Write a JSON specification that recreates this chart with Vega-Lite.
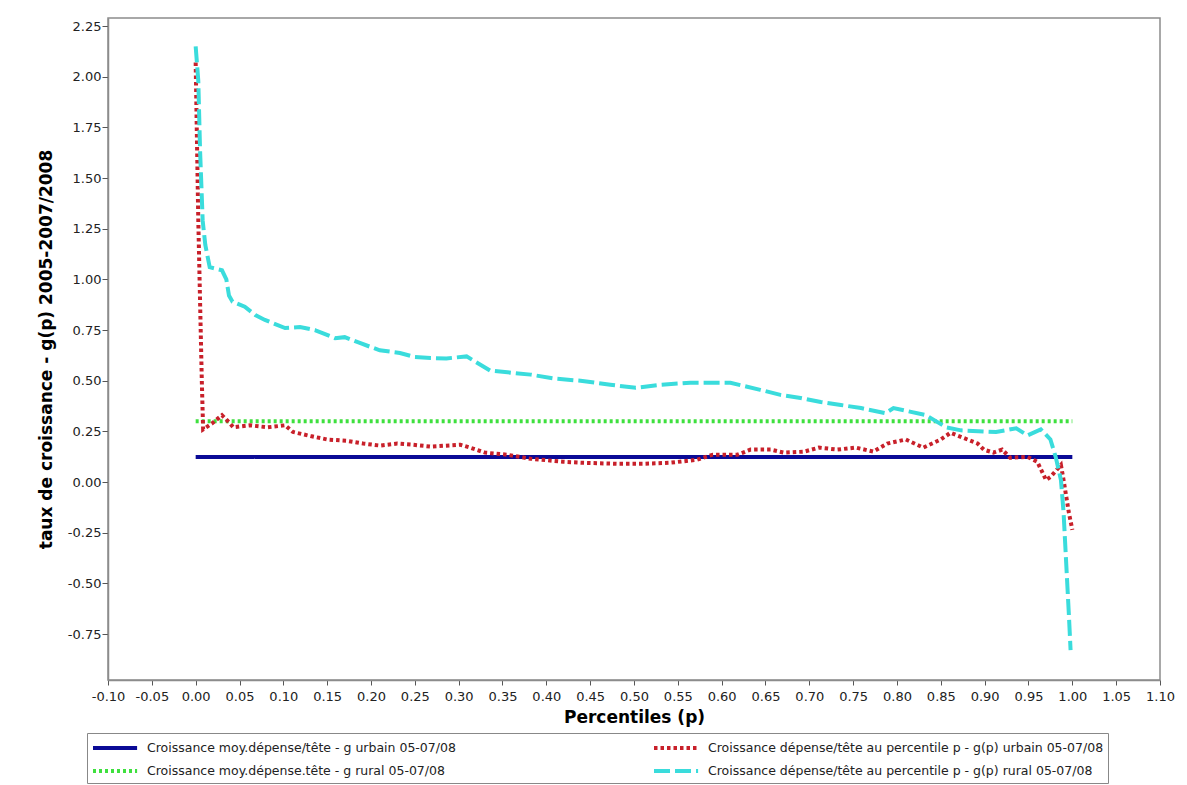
{
  "$schema": "https://vega.github.io/schema/vega-lite/v6.json",
  "width": 1052,
  "height": 662,
  "autosize": {"type": "none"},
  "padding": {"left": 108, "top": 18, "right": 27, "bottom": 105},
  "background": "white",
  "config": {
    "view": {"stroke": "#8c8c8c", "strokeWidth": 1.5},
    "font": "DejaVu Sans"
  },
  "datasets": {
    "series": [
      {"p": 0.0, "g": 0.124, "s": "Croissance moy.dépense/tête - g urbain 05-07/08"},
      {"p": 1.0, "g": 0.124, "s": "Croissance moy.dépense/tête - g urbain 05-07/08"},
      {"p": 0.0, "g": 0.30, "s": "Croissance moy.dépense.tête - g rural 05-07/08"},
      {"p": 1.0, "g": 0.30, "s": "Croissance moy.dépense.tête - g rural 05-07/08"},
      {"p": 0.000, "g": 2.07, "s": "Croissance dépense/tête au percentile p - g(p) urbain 05-07/08"},
      {"p": 0.003, "g": 1.29, "s": "Croissance dépense/tête au percentile p - g(p) urbain 05-07/08"},
      {"p": 0.007, "g": 0.50, "s": "Croissance dépense/tête au percentile p - g(p) urbain 05-07/08"},
      {"p": 0.0085, "g": 0.26, "s": "Croissance dépense/tête au percentile p - g(p) urbain 05-07/08"},
      {"p": 0.019, "g": 0.29, "s": "Croissance dépense/tête au percentile p - g(p) urbain 05-07/08"},
      {"p": 0.030, "g": 0.33, "s": "Croissance dépense/tête au percentile p - g(p) urbain 05-07/08"},
      {"p": 0.039, "g": 0.29, "s": "Croissance dépense/tête au percentile p - g(p) urbain 05-07/08"},
      {"p": 0.043, "g": 0.27, "s": "Croissance dépense/tête au percentile p - g(p) urbain 05-07/08"},
      {"p": 0.062, "g": 0.28, "s": "Croissance dépense/tête au percentile p - g(p) urbain 05-07/08"},
      {"p": 0.082, "g": 0.27, "s": "Croissance dépense/tête au percentile p - g(p) urbain 05-07/08"},
      {"p": 0.102, "g": 0.28, "s": "Croissance dépense/tête au percentile p - g(p) urbain 05-07/08"},
      {"p": 0.111, "g": 0.247, "s": "Croissance dépense/tête au percentile p - g(p) urbain 05-07/08"},
      {"p": 0.131, "g": 0.227, "s": "Croissance dépense/tête au percentile p - g(p) urbain 05-07/08"},
      {"p": 0.150, "g": 0.21, "s": "Croissance dépense/tête au percentile p - g(p) urbain 05-07/08"},
      {"p": 0.173, "g": 0.203, "s": "Croissance dépense/tête au percentile p - g(p) urbain 05-07/08"},
      {"p": 0.191, "g": 0.19, "s": "Croissance dépense/tête au percentile p - g(p) urbain 05-07/08"},
      {"p": 0.210, "g": 0.18, "s": "Croissance dépense/tête au percentile p - g(p) urbain 05-07/08"},
      {"p": 0.230, "g": 0.19, "s": "Croissance dépense/tête au percentile p - g(p) urbain 05-07/08"},
      {"p": 0.248, "g": 0.184, "s": "Croissance dépense/tête au percentile p - g(p) urbain 05-07/08"},
      {"p": 0.268, "g": 0.175, "s": "Croissance dépense/tête au percentile p - g(p) urbain 05-07/08"},
      {"p": 0.302, "g": 0.184, "s": "Croissance dépense/tête au percentile p - g(p) urbain 05-07/08"},
      {"p": 0.313, "g": 0.17, "s": "Croissance dépense/tête au percentile p - g(p) urbain 05-07/08"},
      {"p": 0.330, "g": 0.145, "s": "Croissance dépense/tête au percentile p - g(p) urbain 05-07/08"},
      {"p": 0.355, "g": 0.135, "s": "Croissance dépense/tête au percentile p - g(p) urbain 05-07/08"},
      {"p": 0.382, "g": 0.115, "s": "Croissance dépense/tête au percentile p - g(p) urbain 05-07/08"},
      {"p": 0.419, "g": 0.10, "s": "Croissance dépense/tête au percentile p - g(p) urbain 05-07/08"},
      {"p": 0.442, "g": 0.095, "s": "Croissance dépense/tête au percentile p - g(p) urbain 05-07/08"},
      {"p": 0.481, "g": 0.09, "s": "Croissance dépense/tête au percentile p - g(p) urbain 05-07/08"},
      {"p": 0.511, "g": 0.09, "s": "Croissance dépense/tête au percentile p - g(p) urbain 05-07/08"},
      {"p": 0.541, "g": 0.095, "s": "Croissance dépense/tête au percentile p - g(p) urbain 05-07/08"},
      {"p": 0.572, "g": 0.11, "s": "Croissance dépense/tête au percentile p - g(p) urbain 05-07/08"},
      {"p": 0.590, "g": 0.135, "s": "Croissance dépense/tête au percentile p - g(p) urbain 05-07/08"},
      {"p": 0.618, "g": 0.135, "s": "Croissance dépense/tête au percentile p - g(p) urbain 05-07/08"},
      {"p": 0.633, "g": 0.16, "s": "Croissance dépense/tête au percentile p - g(p) urbain 05-07/08"},
      {"p": 0.656, "g": 0.16, "s": "Croissance dépense/tête au percentile p - g(p) urbain 05-07/08"},
      {"p": 0.671, "g": 0.145, "s": "Croissance dépense/tête au percentile p - g(p) urbain 05-07/08"},
      {"p": 0.694, "g": 0.15, "s": "Croissance dépense/tête au percentile p - g(p) urbain 05-07/08"},
      {"p": 0.711, "g": 0.17, "s": "Croissance dépense/tête au percentile p - g(p) urbain 05-07/08"},
      {"p": 0.732, "g": 0.16, "s": "Croissance dépense/tête au percentile p - g(p) urbain 05-07/08"},
      {"p": 0.753, "g": 0.17, "s": "Croissance dépense/tête au percentile p - g(p) urbain 05-07/08"},
      {"p": 0.773, "g": 0.15, "s": "Croissance dépense/tête au percentile p - g(p) urbain 05-07/08"},
      {"p": 0.789, "g": 0.19, "s": "Croissance dépense/tête au percentile p - g(p) urbain 05-07/08"},
      {"p": 0.810, "g": 0.21, "s": "Croissance dépense/tête au percentile p - g(p) urbain 05-07/08"},
      {"p": 0.830, "g": 0.17, "s": "Croissance dépense/tête au percentile p - g(p) urbain 05-07/08"},
      {"p": 0.850, "g": 0.21, "s": "Croissance dépense/tête au percentile p - g(p) urbain 05-07/08"},
      {"p": 0.861, "g": 0.243, "s": "Croissance dépense/tête au percentile p - g(p) urbain 05-07/08"},
      {"p": 0.892, "g": 0.19, "s": "Croissance dépense/tête au percentile p - g(p) urbain 05-07/08"},
      {"p": 0.899, "g": 0.16, "s": "Croissance dépense/tête au percentile p - g(p) urbain 05-07/08"},
      {"p": 0.910, "g": 0.145, "s": "Croissance dépense/tête au percentile p - g(p) urbain 05-07/08"},
      {"p": 0.920, "g": 0.16, "s": "Croissance dépense/tête au percentile p - g(p) urbain 05-07/08"},
      {"p": 0.929, "g": 0.12, "s": "Croissance dépense/tête au percentile p - g(p) urbain 05-07/08"},
      {"p": 0.949, "g": 0.124, "s": "Croissance dépense/tête au percentile p - g(p) urbain 05-07/08"},
      {"p": 0.960, "g": 0.10, "s": "Croissance dépense/tête au percentile p - g(p) urbain 05-07/08"},
      {"p": 0.970, "g": 0.01, "s": "Croissance dépense/tête au percentile p - g(p) urbain 05-07/08"},
      {"p": 0.975, "g": 0.025, "s": "Croissance dépense/tête au percentile p - g(p) urbain 05-07/08"},
      {"p": 0.987, "g": 0.084, "s": "Croissance dépense/tête au percentile p - g(p) urbain 05-07/08"},
      {"p": 0.990, "g": 0.01, "s": "Croissance dépense/tête au percentile p - g(p) urbain 05-07/08"},
      {"p": 0.996, "g": -0.15, "s": "Croissance dépense/tête au percentile p - g(p) urbain 05-07/08"},
      {"p": 1.000, "g": -0.236, "s": "Croissance dépense/tête au percentile p - g(p) urbain 05-07/08"},
      {"p": 0.000, "g": 2.15, "s": "Croissance dépense/tête au percentile p - g(p) rural 05-07/08"},
      {"p": 0.003, "g": 1.98, "s": "Croissance dépense/tête au percentile p - g(p) rural 05-07/08"},
      {"p": 0.005, "g": 1.64, "s": "Croissance dépense/tête au percentile p - g(p) rural 05-07/08"},
      {"p": 0.008, "g": 1.29, "s": "Croissance dépense/tête au percentile p - g(p) rural 05-07/08"},
      {"p": 0.011, "g": 1.17, "s": "Croissance dépense/tête au percentile p - g(p) rural 05-07/08"},
      {"p": 0.016, "g": 1.06, "s": "Croissance dépense/tête au percentile p - g(p) rural 05-07/08"},
      {"p": 0.030, "g": 1.045, "s": "Croissance dépense/tête au percentile p - g(p) rural 05-07/08"},
      {"p": 0.035, "g": 1.00, "s": "Croissance dépense/tête au percentile p - g(p) rural 05-07/08"},
      {"p": 0.038, "g": 0.92, "s": "Croissance dépense/tête au percentile p - g(p) rural 05-07/08"},
      {"p": 0.042, "g": 0.89, "s": "Croissance dépense/tête au percentile p - g(p) rural 05-07/08"},
      {"p": 0.056, "g": 0.865, "s": "Croissance dépense/tête au percentile p - g(p) rural 05-07/08"},
      {"p": 0.068, "g": 0.824, "s": "Croissance dépense/tête au percentile p - g(p) rural 05-07/08"},
      {"p": 0.079, "g": 0.80, "s": "Croissance dépense/tête au percentile p - g(p) rural 05-07/08"},
      {"p": 0.102, "g": 0.76, "s": "Croissance dépense/tête au percentile p - g(p) rural 05-07/08"},
      {"p": 0.119, "g": 0.765, "s": "Croissance dépense/tête au percentile p - g(p) rural 05-07/08"},
      {"p": 0.136, "g": 0.75, "s": "Croissance dépense/tête au percentile p - g(p) rural 05-07/08"},
      {"p": 0.159, "g": 0.71, "s": "Croissance dépense/tête au percentile p - g(p) rural 05-07/08"},
      {"p": 0.170, "g": 0.715, "s": "Croissance dépense/tête au percentile p - g(p) rural 05-07/08"},
      {"p": 0.188, "g": 0.685, "s": "Croissance dépense/tête au percentile p - g(p) rural 05-07/08"},
      {"p": 0.210, "g": 0.65, "s": "Croissance dépense/tête au percentile p - g(p) rural 05-07/08"},
      {"p": 0.233, "g": 0.637, "s": "Croissance dépense/tête au percentile p - g(p) rural 05-07/08"},
      {"p": 0.250, "g": 0.617, "s": "Croissance dépense/tête au percentile p - g(p) rural 05-07/08"},
      {"p": 0.268, "g": 0.612, "s": "Croissance dépense/tête au percentile p - g(p) rural 05-07/08"},
      {"p": 0.286, "g": 0.61, "s": "Croissance dépense/tête au percentile p - g(p) rural 05-07/08"},
      {"p": 0.309, "g": 0.62, "s": "Croissance dépense/tête au percentile p - g(p) rural 05-07/08"},
      {"p": 0.336, "g": 0.55, "s": "Croissance dépense/tête au percentile p - g(p) rural 05-07/08"},
      {"p": 0.382, "g": 0.53, "s": "Croissance dépense/tête au percentile p - g(p) rural 05-07/08"},
      {"p": 0.410, "g": 0.51, "s": "Croissance dépense/tête au percentile p - g(p) rural 05-07/08"},
      {"p": 0.439, "g": 0.50, "s": "Croissance dépense/tête au percentile p - g(p) rural 05-07/08"},
      {"p": 0.473, "g": 0.48, "s": "Croissance dépense/tête au percentile p - g(p) rural 05-07/08"},
      {"p": 0.502, "g": 0.465, "s": "Croissance dépense/tête au percentile p - g(p) rural 05-07/08"},
      {"p": 0.530, "g": 0.48, "s": "Croissance dépense/tête au percentile p - g(p) rural 05-07/08"},
      {"p": 0.564, "g": 0.49, "s": "Croissance dépense/tête au percentile p - g(p) rural 05-07/08"},
      {"p": 0.610, "g": 0.49, "s": "Croissance dépense/tête au percentile p - g(p) rural 05-07/08"},
      {"p": 0.644, "g": 0.455, "s": "Croissance dépense/tête au percentile p - g(p) rural 05-07/08"},
      {"p": 0.667, "g": 0.43, "s": "Croissance dépense/tête au percentile p - g(p) rural 05-07/08"},
      {"p": 0.690, "g": 0.415, "s": "Croissance dépense/tête au percentile p - g(p) rural 05-07/08"},
      {"p": 0.713, "g": 0.395, "s": "Croissance dépense/tête au percentile p - g(p) rural 05-07/08"},
      {"p": 0.736, "g": 0.38, "s": "Croissance dépense/tête au percentile p - g(p) rural 05-07/08"},
      {"p": 0.759, "g": 0.365, "s": "Croissance dépense/tête au percentile p - g(p) rural 05-07/08"},
      {"p": 0.787, "g": 0.34, "s": "Croissance dépense/tête au percentile p - g(p) rural 05-07/08"},
      {"p": 0.796, "g": 0.365, "s": "Croissance dépense/tête au percentile p - g(p) rural 05-07/08"},
      {"p": 0.833, "g": 0.33, "s": "Croissance dépense/tête au percentile p - g(p) rural 05-07/08"},
      {"p": 0.856, "g": 0.27, "s": "Croissance dépense/tête au percentile p - g(p) rural 05-07/08"},
      {"p": 0.873, "g": 0.255, "s": "Croissance dépense/tête au percentile p - g(p) rural 05-07/08"},
      {"p": 0.913, "g": 0.247, "s": "Croissance dépense/tête au percentile p - g(p) rural 05-07/08"},
      {"p": 0.936, "g": 0.265, "s": "Croissance dépense/tête au percentile p - g(p) rural 05-07/08"},
      {"p": 0.949, "g": 0.23, "s": "Croissance dépense/tête au percentile p - g(p) rural 05-07/08"},
      {"p": 0.964, "g": 0.26, "s": "Croissance dépense/tête au percentile p - g(p) rural 05-07/08"},
      {"p": 0.975, "g": 0.21, "s": "Croissance dépense/tête au percentile p - g(p) rural 05-07/08"},
      {"p": 0.981, "g": 0.124, "s": "Croissance dépense/tête au percentile p - g(p) rural 05-07/08"},
      {"p": 0.987, "g": 0.01, "s": "Croissance dépense/tête au percentile p - g(p) rural 05-07/08"},
      {"p": 0.990, "g": -0.15, "s": "Croissance dépense/tête au percentile p - g(p) rural 05-07/08"},
      {"p": 0.993, "g": -0.40, "s": "Croissance dépense/tête au percentile p - g(p) rural 05-07/08"},
      {"p": 0.996, "g": -0.65, "s": "Croissance dépense/tête au percentile p - g(p) rural 05-07/08"},
      {"p": 0.998, "g": -0.83, "s": "Croissance dépense/tête au percentile p - g(p) rural 05-07/08"}
    ]
  },
  "data": {"name": "series"},
  "mark": {"type": "line", "strokeWidth": 4, "clip": true},
  "encoding": {
    "x": {
      "field": "p",
      "type": "quantitative",
      "scale": {"domain": [-0.1, 1.1], "nice": false, "zero": false},
      "axis": {
        "title": "Percentiles (p)",
        "values": [-0.1, -0.05, 0, 0.05, 0.1, 0.15, 0.2, 0.25, 0.3, 0.35, 0.4, 0.45, 0.5, 0.55, 0.6, 0.65, 0.7, 0.75, 0.8, 0.85, 0.9, 0.95, 1.0, 1.05, 1.1],
        "labelExpr": "replace(format(datum.value, '.2f'), '\u2212', '-')",
        "grid": false,
        "domainColor": "#8c8c8c",
        "domainWidth": 1.5,
        "tickColor": "#555",
        "tickSize": 5,
        "labelPadding": 5,
        "labelFont": "DejaVu Sans",
        "labelFontSize": 13,
        "labelColor": "#222",
        "labelFlush": false,
        "labelOverlap": false,
        "titleFont": "DejaVu Sans",
        "titleFontSize": 17,
        "titleFontWeight": "bold",
        "titleColor": "#000",
        "titlePadding": 6
      }
    },
    "y": {
      "field": "g",
      "type": "quantitative",
      "scale": {"domain": [-0.977, 2.29], "nice": false, "zero": false},
      "axis": {
        "title": "taux de croissance - g(p) 2005-2007/2008",
        "values": [-0.75, -0.5, -0.25, 0, 0.25, 0.5, 0.75, 1.0, 1.25, 1.5, 1.75, 2.0, 2.25],
        "labelExpr": "replace(format(datum.value, '.2f'), '\u2212', '-')",
        "grid": false,
        "domainColor": "#8c8c8c",
        "domainWidth": 1.5,
        "tickColor": "#555",
        "tickSize": 6,
        "labelPadding": 1,
        "labelFont": "DejaVu Sans",
        "labelFontSize": 13,
        "labelColor": "#222",
        "labelOverlap": false,
        "titleFont": "DejaVu Sans",
        "titleFontSize": 17,
        "titleFontWeight": "bold",
        "titleColor": "#000",
        "titlePadding": 12
      }
    },
    "color": {
      "field": "s",
      "type": "nominal",
      "scale": {
        "domain": [
          "Croissance moy.dépense/tête - g urbain 05-07/08",
          "Croissance moy.dépense.tête - g rural 05-07/08",
          "Croissance dépense/tête au percentile p - g(p) urbain 05-07/08",
          "Croissance dépense/tête au percentile p - g(p) rural 05-07/08"
        ],
        "range": ["#0a0a96", "#3ee03e", "#c8202a", "#3adcdc"]
      },
      "legend": {
        "title": null,
        "orient": "none",
        "direction": "vertical",
        "legendX": -21,
        "legendY": 715,
        "columns": 2,
        "columnPadding": 190,
        "rowPadding": 4,
        "padding": 4,
        "strokeColor": "#888",
        "symbolType": "M-1,0H3.9",
        "symbolSize": 324,
        "symbolStrokeWidth": 4,
        "labelFont": "DejaVu Sans",
        "labelFontSize": 12.5,
        "labelColor": "#222",
        "labelLimit": 520,
        "labelOffset": 34
      }
    },
    "strokeDash": {
      "field": "s",
      "type": "nominal",
      "scale": {
        "domain": [
          "Croissance moy.dépense/tête - g urbain 05-07/08",
          "Croissance moy.dépense.tête - g rural 05-07/08",
          "Croissance dépense/tête au percentile p - g(p) urbain 05-07/08",
          "Croissance dépense/tête au percentile p - g(p) rural 05-07/08"
        ],
        "range": [[1, 0], [3, 3], [3.5, 3], [16, 5]]
      },
      "legend": {
        "title": null,
        "orient": "none",
        "direction": "vertical",
        "legendX": -21,
        "legendY": 715,
        "columns": 2,
        "columnPadding": 190,
        "rowPadding": 4,
        "padding": 4,
        "strokeColor": "#888",
        "symbolType": "M-1,0H3.9",
        "symbolSize": 324,
        "symbolStrokeWidth": 4,
        "labelFont": "DejaVu Sans",
        "labelFontSize": 12.5,
        "labelColor": "#222",
        "labelLimit": 520,
        "labelOffset": 34
      }
    }
  }
}
